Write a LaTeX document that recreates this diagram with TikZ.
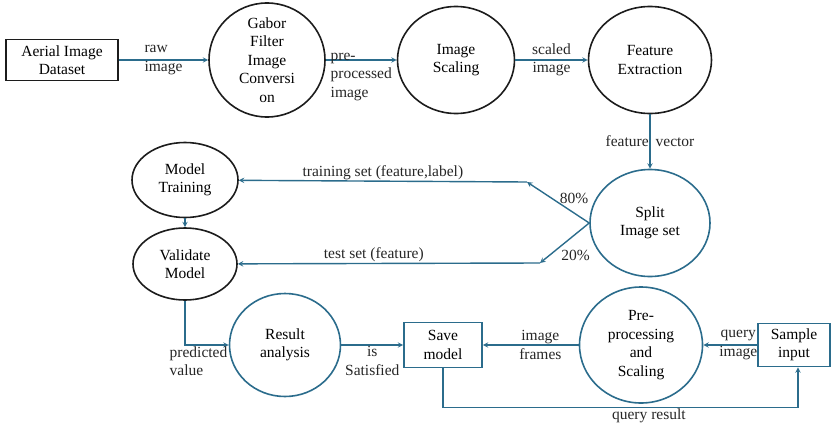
\documentclass[tikz,border=0pt]{standalone}
\usepackage{fontspec}
\setmainfont{Liberation Serif}
\usetikzlibrary{shapes.geometric}
\definecolor{flowblue}{HTML}{2B6C8C}
\definecolor{rimblack}{HTML}{1C1C1C}

\begin{document}
\begin{tikzpicture}[x = 1pt, y = -1pt, >=stealth,
	font = \fontsize{15.5}{18.5}\selectfont,
	proc/.style = {draw = rimblack, line width = 1.6pt, ellipse, align = center, inner sep = 0pt},
	store/.style = {draw = rimblack, line width = 1.6pt, rectangle, align = center, inner sep = 0pt},
	bluerim/.style = {draw = flowblue},
	flow/.style = {->, draw = flowblue, line width = 1.4pt},
	lbl/.style = {inner sep = 1pt, align = center, text = black!85}]
				\useasboundingbox (0,0) rectangle (832,431);
				\node[store, minimum width = 112pt, minimum height = 41pt] (data) at (62,60) {Aerial Image\\Dataset};
				\node[proc, minimum width = 116pt, minimum height = 114pt, inner ysep = -6pt] (gabor) at (267,60) {Gabor\\Filter\\Image\\Conversi\\on};
				\node[proc, minimum width = 117pt, minimum height = 107pt] (scaling) at (456,60) {Image\\Scaling};
				\node[proc, minimum width = 123pt, minimum height = 107pt] (feature) at (650,60) {Feature\\Extraction};
				\node[proc, bluerim, minimum width = 120pt, minimum height = 107pt] (split) at (650,223) {Split\\Image set};
				\node[proc, minimum width = 106pt, minimum height = 75pt] (train) at (185,180) {Model\\Training};
				\node[proc, minimum width = 104pt, minimum height = 72pt] (valid) at (185,264) {Validate\\Model};
				\node[proc, bluerim, minimum width = 111pt, minimum height = 103pt] (result) at (285,345) {Result\\analysis};
				\node[store, bluerim, minimum width = 78pt, minimum height = 45pt] (save) at (443,345) {Save\\model};
				\node[proc, bluerim, minimum width = 123pt, minimum height = 116pt] (prep) at (641,345) {Pre-\\processing\\and\\Scaling};
				\node[store, bluerim, minimum width = 72pt, minimum height = 43pt] (sample) at (794,345) {Sample\\input};
				\coordinate (c80) at (527,182);
				\coordinate (c20) at (540,263);
				\draw[flow] (data) -- node[lbl, align = left] {raw\\image} (gabor);
				\draw[flow] (gabor) -- node[lbl, below, yshift = 9pt, align = left] {pre-\\processed\\image} (scaling);
				\draw[flow] (scaling) -- node[lbl] {scaled\\image} (feature);
				\draw[flow] (feature) -- node[lbl] {feature\hspace{7pt}vector} (split);
				\draw[flow] (split.west) -- node[lbl, right, yshift = 4pt] {80\%} (c80);
				\draw[flow] (split.west) -- node[lbl, pos = 0.6, right, yshift = -8pt] {20\%} (c20);
				\draw[flow] (c80) -- node[lbl, above] {training set (feature,label)} (train);
				\draw[flow] (c20) -- node[lbl, above, pos = 0.55] {test set (feature)} (valid);
				\draw[flow] (train) -- (valid);
				\draw[flow] (valid) |- node[lbl, below right, xshift = -17pt, align = left] {predicted\\value} (result);
				\draw[flow] (result) -- node[lbl, below] {is\\Satisfied} (save);
				\draw[flow] (prep) -- node[lbl, pos = 0.4] {image\\frames} (save);
				\draw[flow] (sample) -- node[lbl, pos = 0.35] {query\\image} (prep);
				\draw[flow] (save.south) -- ++(0,39) -| node[lbl, pos = 0.29, below] {query result} ([xshift = 4pt]sample.south);
\end{tikzpicture}
\end{document}
